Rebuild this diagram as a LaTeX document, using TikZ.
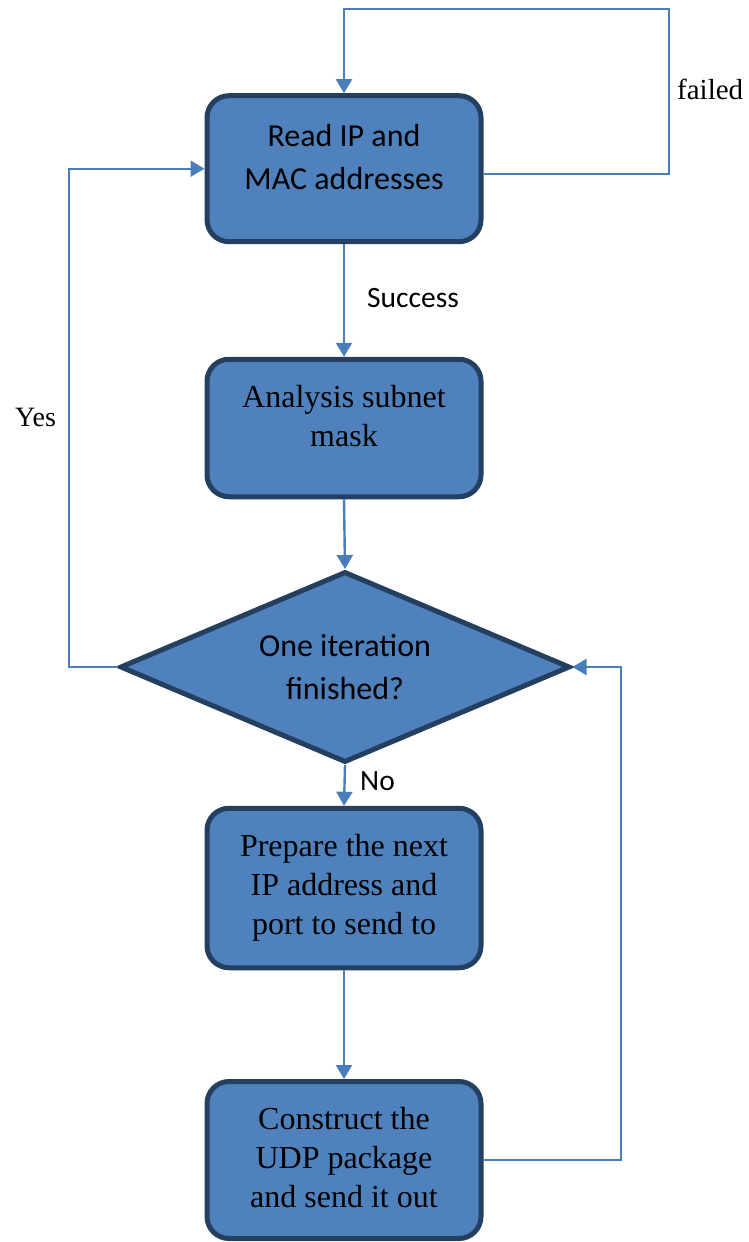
\documentclass[tikz,border=0pt]{standalone}
\usepackage{fontspec}
\setmainfont{Liberation Serif}
\newfontfamily\calfont{Carlito}
\usetikzlibrary{arrows.meta,shapes.geometric}
\definecolor{boxfill}{HTML}{4F81BD}
\definecolor{boxline}{HTML}{243F60}
\definecolor{connc}{HTML}{4A7EBB}
\tikzset{
  proc/.style={draw=boxline, fill=boxfill, line width=5pt, rounded corners=22pt,
    minimum width=274pt, align=center, inner sep=0pt},
  decision/.style={diamond, draw=boxline, fill=boxfill, line width=5pt,
    minimum width=450pt, minimum height=191pt, aspect=2.35, align=center, inner sep=0pt},
  calibri/.style={font=\calfont\fontsize{32}{43}\selectfont},
  calibrilbl/.style={font=\calfont\fontsize{29.5}{36}\selectfont},
  times/.style={font=\fontsize{32}{39}\selectfont},
  conn/.style={draw=connc, line width=2.4pt, -{Triangle[length=14pt,width=16pt]}},
  lbl/.style={inner sep=0pt, anchor=base west},
}
\begin{document}
\begin{tikzpicture}[x=1pt,y=-1pt]
  \useasboundingbox (0,0) rectangle (749,1242);
  \fill[white] (0,0) rectangle (749,1242);

  % process boxes and the decision
  \node[proc, calibri, minimum height=146pt, text depth=24pt] (b1) at (344,168.7)
    {Read IP and\\MAC addresses};
  \node[proc, times, minimum height=137.5pt, text depth=25pt] (b2) at (344,428)
    {Analysis subnet\\mask};
  \node[decision, calibri, text depth=1pt] (d) at (345,667) {One iteration\\finished?};
  \node[proc, times, minimum height=159.5pt] (b3) at (344,888)
    {Prepare the next\\IP address and\\port to send to};
  \node[proc, times, minimum height=157pt, text depth=6pt] (b4) at (344,1160)
    {Construct the\\UDP package\\and send it out};

  % corner points of the loops
  \coordinate (ftop) at (669,9);
  \coordinate (yl) at (69,169);
  \coordinate (rl) at (621,667);

  % straight connectors
  \draw[conn] (b1.south) -- (b2.north);
  \draw[conn] (b2.south) -- (d.north);
  \draw[conn] (d.south) -- (b3.north);
  \draw[conn] (b3.south) -- (b4.north);

  % loops
  \draw[conn] ([yshift=-5.3pt]b1.east) -| (ftop) -| (b1.north);
  \draw[conn] (d.west) -| (yl) |- (b1.west);
  \draw[conn] (b4.east) -| (rl) |- (d.east);

  % labels
  \node[lbl, calibrilbl] (success) at (367,307.7) {Success};
  \node[lbl, calibrilbl] (no) at (360,790) {No};
  \node[lbl, font=\fontsize{29}{34}\selectfont] (failed) at (677,99) {failed};
  \node[lbl, font=\fontsize{28}{33}\selectfont] (yes) at (15,426) {Yes};
\end{tikzpicture}
\end{document}
